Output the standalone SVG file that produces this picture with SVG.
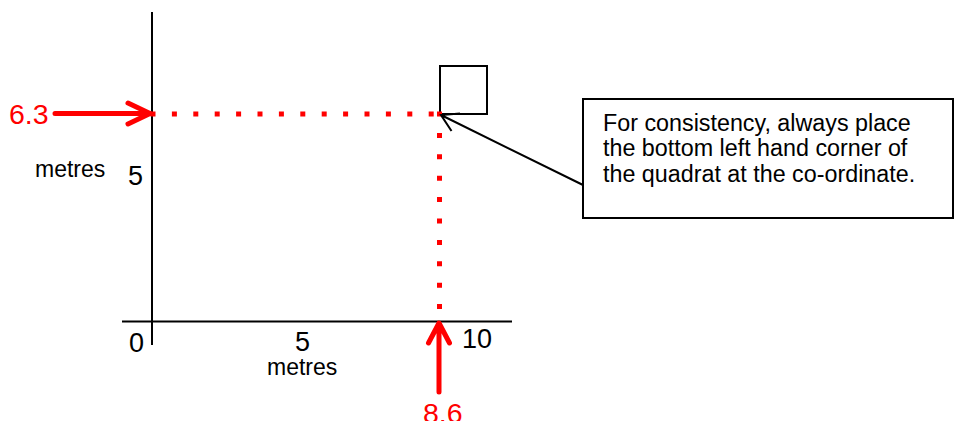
<svg xmlns="http://www.w3.org/2000/svg" width="954" height="421" viewBox="0 0 954 421">
<style>
.ax{stroke:#000;stroke-width:2;fill:none}
.dot{stroke:#f00;stroke-width:5;stroke-dasharray:5 16.4;fill:none}
.red{stroke:#f00;stroke-width:5;fill:none;stroke-linecap:round;stroke-linejoin:round}
.t{font-family:"Liberation Sans",Arial,sans-serif;fill:#000}
.big{font-size:27px}
.lab{font-size:28.5px}
.med{font-size:23px}
.call{font-size:23.3px}
.rt{fill:#f00}
</style>
<rect width="954" height="421" fill="#fff"/>
<g id="axes">
<line class="ax" x1="152" y1="12" x2="152" y2="345"/>
<line class="ax" x1="122" y1="321.5" x2="512" y2="321.5"/>
<text class="t big" x="128" y="185">5</text>
<text class="t big" x="129" y="352">0</text>
<text class="t big" x="295" y="351">5</text>
<text class="t big" x="462" y="348">10</text>
<text class="t med" x="35" y="177">metres</text>
<text class="t med" x="267" y="375">metres</text>
</g>
<g id="quadrat">
<rect class="ax" x="440" y="66" width="47" height="48"/>
</g>
<g id="callout">
<rect class="ax" x="583" y="99" width="370" height="119"/>
<text class="t call" x="603" y="130.5">For consistency, always place</text>
<text class="t call" x="603" y="156">the bottom left hand corner of</text>
<text class="t call" x="603" y="181.5">the quadrat at the co-ordinate.</text>
</g>
<g id="markers-63">
<text class="t lab rt" x="9" y="123.5">6.3</text>
</g>
<g id="markers-86">
<text class="t lab rt" x="423" y="422.5">8.6</text>
</g>
<g id="connectors">
<line class="dot" x1="150.5" y1="114" x2="442" y2="114"/>
<line class="dot" x1="439.5" y1="111.5" x2="439.5" y2="318"/>
<path class="red" d="M55 113.5 H147 M128 103 L150 113.5 L128 124"/>
<path class="red" d="M439 392 V326 M428.5 343 L439 323 L449.5 343"/>
<path class="ax" d="M583 185 L441 115 M460 113.5 L441 115 L451.5 131"/>
</g>
</svg>
